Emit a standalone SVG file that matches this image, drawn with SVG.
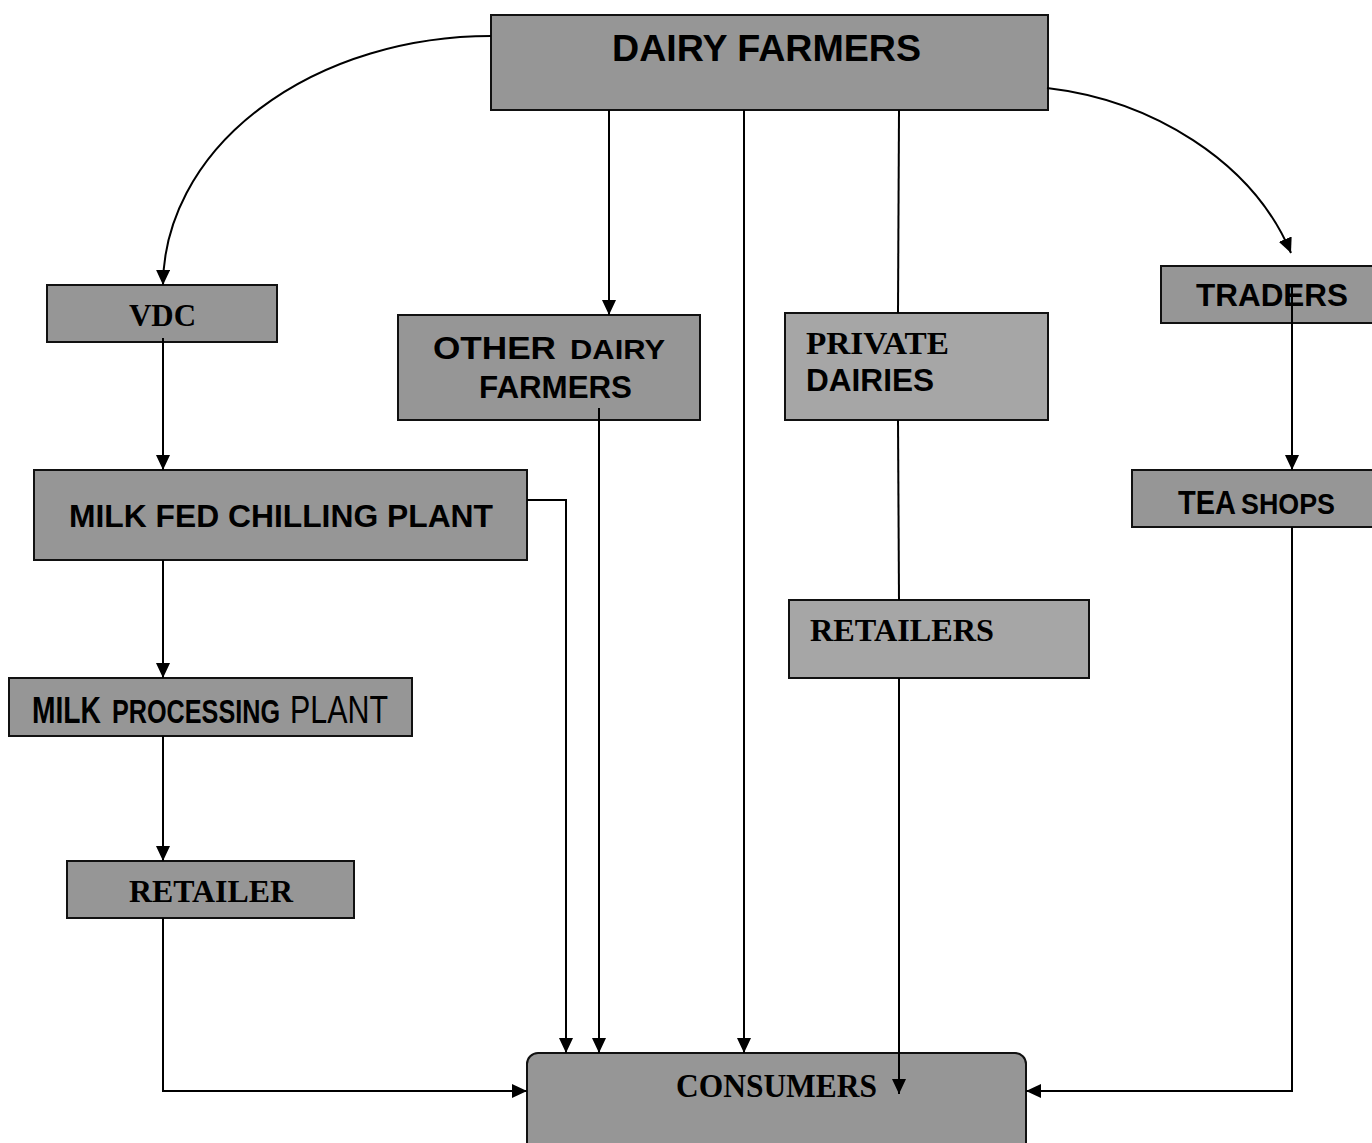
<svg xmlns="http://www.w3.org/2000/svg" width="1372" height="1143" viewBox="0 0 1372 1143">
<style>
.box{fill:#969696;stroke:#111;stroke-width:2}
.lt{fill:#a6a6a6}
.c{fill:none;stroke:#000;stroke-width:2}
.a{marker-end:url(#ah)}
.s{font-family:"Liberation Sans",Arial,sans-serif;font-weight:bold;fill:#000}
.sr{font-weight:normal}
.t{font-family:"Liberation Serif","Times New Roman",serif;font-weight:bold;fill:#000}
</style>
<defs>
<marker id="ah" viewBox="0 0 15 14" refX="15" refY="7" markerWidth="15" markerHeight="14" markerUnits="userSpaceOnUse" orient="auto">
<path d="M0,0 L15,7 L0,14 Z" fill="#000"/>
</marker>
</defs>
<rect width="1372" height="1143" fill="#fff"/>
<g id="dairy-farmers">
<rect class="box" x="491" y="15" width="557" height="95"/>
<text class="s" x="612" y="61" font-size="36" textLength="309" lengthAdjust="spacingAndGlyphs">DAIRY FARMERS</text>
</g>
<g id="vdc">
<rect class="box" x="47" y="285" width="230" height="57"/>
<text class="t" x="129" y="326" font-size="32" textLength="67" lengthAdjust="spacingAndGlyphs">VDC</text>
</g>
<g id="other-dairy-farmers">
<rect class="box" x="398" y="315" width="302" height="105"/>
<text class="s" y="359"><tspan x="433" font-size="31" textLength="123" lengthAdjust="spacingAndGlyphs">OTHER</tspan><tspan x="570" font-size="27" textLength="95" lengthAdjust="spacingAndGlyphs">DAIRY</tspan></text>
<text class="s" x="479" y="398" font-size="31" textLength="153" lengthAdjust="spacingAndGlyphs">FARMERS</text>
</g>
<g id="private-dairies">
<rect class="box lt" x="785" y="313" width="263" height="107"/>
<text class="t" x="806" y="354" font-size="32" textLength="143" lengthAdjust="spacingAndGlyphs">PRIVATE</text>
<text class="s" x="806" y="391" font-size="32" textLength="128" lengthAdjust="spacingAndGlyphs">DAIRIES</text>
</g>
<g id="traders">
<rect class="box" x="1161" y="266" width="230" height="57"/>
<text class="s" x="1196" y="306" font-size="31" textLength="152" lengthAdjust="spacingAndGlyphs">TRADERS</text>
</g>
<g id="milk-fed-chilling-plant">
<rect class="box" x="34" y="470" width="493" height="90"/>
<text class="s" x="69" y="527" font-size="32" textLength="424" lengthAdjust="spacingAndGlyphs">MILK FED CHILLING PLANT</text>
</g>
<g id="tea-shops">
<rect class="box" x="1132" y="470" width="260" height="57"/>
<text class="s" y="514"><tspan x="1178" font-size="34" textLength="58" lengthAdjust="spacingAndGlyphs">TEA</tspan><tspan x="1241" font-size="30" textLength="94" lengthAdjust="spacingAndGlyphs">SHOPS</tspan></text>
</g>
<g id="retailers">
<rect class="box lt" x="789" y="600" width="300" height="78"/>
<text class="t" x="810" y="641" font-size="32" textLength="184" lengthAdjust="spacingAndGlyphs">RETAILERS</text>
</g>
<g id="milk-processing-plant">
<rect class="box" x="9" y="678" width="403" height="58"/>
<g transform="translate(0,723) scale(1,1.3)">
<text class="s" y="0"><tspan x="32" font-size="28" textLength="69" lengthAdjust="spacingAndGlyphs">MILK</tspan><tspan x="112" font-size="25" textLength="168" lengthAdjust="spacingAndGlyphs">PROCESSING</tspan><tspan class="sr" x="290" font-size="30" textLength="98" lengthAdjust="spacingAndGlyphs">PLANT</tspan></text>
</g>
</g>
<g id="retailer">
<rect class="box" x="67" y="861" width="287" height="57"/>
<text class="t" x="129" y="902" font-size="32" textLength="164" lengthAdjust="spacingAndGlyphs">RETAILER</text>
</g>
<g id="consumers">
<rect class="box" x="527" y="1053" width="499" height="100" rx="11" ry="11"/>
<text class="t" x="676" y="1097" font-size="33" textLength="201" lengthAdjust="spacingAndGlyphs">CONSUMERS</text>
</g>
<g id="connectors">
<path class="c a" d="M491,36 A328 250 0 0 0 163,285"/>
<path class="c a" d="M1047,88 C1150,100 1252,160 1291,253"/>
<path class="c a" d="M609,110 V315"/>
<path class="c a" d="M744,110 V1053"/>
<path class="c" d="M899,110 L898,313"/>
<path class="c" d="M898,420 L899,600"/>
<path class="c a" d="M899,678 V1094"/>
<path class="c a" d="M599,408 V1053"/>
<path class="c a" d="M527,500 H566 V1053"/>
<path class="c a" d="M163,338 V470"/>
<path class="c a" d="M163,560 V678"/>
<path class="c a" d="M163,736 V861"/>
<path class="c a" d="M163,918 V1091 H527"/>
<path class="c a" d="M1292,287 V470"/>
<path class="c a" d="M1292,527 V1091 H1026"/>
</g>
</svg>
